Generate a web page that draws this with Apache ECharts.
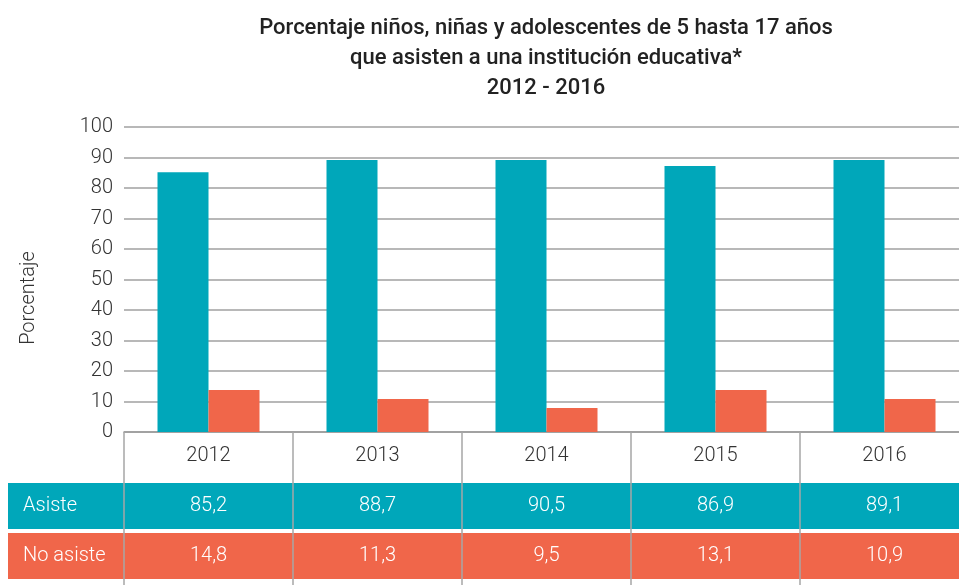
<!DOCTYPE html>
<html>
<head>
<meta charset="utf-8">
<script src="https://cdn.jsdelivr.net/npm/echarts@6/dist/echarts.min.js"></script>
<style>
  html, body { margin: 0; padding: 0; background: #fff; }
  #chart { width: 959px; height: 585px; }
</style>
</head>
<body>
<div id="chart"></div>
<script>
// datos
var years = ["2012", "2013", "2014", "2015", "2016"];
// alto de las barras
var asisteBar = [85.2, 89.2, 89.2, 87.2, 89.2];
var noAsisteBar = [13.8, 10.8, 7.9, 13.8, 10.8];
// valores de la tabla
var asisteTabla = ["85,2", "88,7", "90,5", "86,9", "89,1"];
var noAsisteTabla = ["14,8", "11,3", "9,5", "13,1", "10,9"];
var yTicks = [0, 100, 10]; // min, max, intervalo

var teal = "#00a7ba";
var orange = "#f0664a";
var font = "Roboto";

var myChart = echarts.init(document.getElementById("chart"));

var option = {
  animation: false,
  title: {
    text: "Porcentaje niños, niñas y adolescentes de 5 hasta 17 años\nque asisten a una institución educativa*\n2012 - 2016",
    left: 541,
    top: 8,
    textAlign: "center",
    textStyle: {
      fontFamily: font,
      fontWeight: 500,
      fontSize: 22,
      lineHeight: 30,
      color: "#222",
    },
  },
  grid: {
    left: 124,
    width: 845, // el grafico original esta cortado a la derecha
    top: 127,
    bottom: 153,
    outerBoundsMode: "none",
    containLabel: false,
  },
  xAxis: {
    type: "category",
    data: years,
    axisLine: { show: true, lineStyle: { color: "#9a9a9a", width: 1.5 } },
    axisTick: {
      show: true,
      interval: 0,
      length: 153, // lineas verticales de la tabla
      lineStyle: { color: "#a6a6a6", width: 1.5 },
    },
    axisLabel: {
      interval: 0,
      margin: 14,
      fontFamily: font,
      fontWeight: 300,
      fontSize: 20,
      color: "#333",
    },
  },
  yAxis: {
    type: "value",
    min: yTicks[0],
    max: yTicks[1],
    interval: yTicks[2],
    axisLine: { show: false },
    axisTick: { show: false },
    axisLabel: {
      margin: 11,
      fontFamily: font,
      fontWeight: 300,
      fontSize: 20,
      color: "#333",
    },
    splitLine: { lineStyle: { color: "#a0a0a0", width: 1.5 } },
  },
  series: [
    {
      name: "Asiste",
      type: "bar",
      data: asisteBar,
      barWidth: 51,
      barGap: "0%",
      itemStyle: { color: teal },
    },
    {
      name: "No asiste",
      type: "bar",
      data: noAsisteBar,
      barWidth: 51,
      itemStyle: { color: orange },
    },
  ],
};
myChart.setOption(option);

// titulo del eje y + tabla debajo del grafico
var graphics = [
  {
    type: "text",
    x: 29,
    y: 298,
    rotation: Math.PI / 2,
    style: {
      text: "Porcentaje",
      fill: "#333",
      font: "300 20px " + font,
      textAlign: "center",
      textVerticalAlign: "middle",
    },
  },
];
var rows = [
  { name: "Asiste", vals: asisteTabla, color: teal, y: 483 },
  { name: "No asiste", vals: noAsisteTabla, color: orange, y: 533 },
];
var rowH = 46;
rows.forEach(function (r) {
  graphics.push({
    type: "rect",
    z: -1,
    shape: { x: 8, y: r.y, width: 951, height: rowH },
    style: { fill: r.color },
  });
  graphics.push({
    type: "text",
    z: 10,
    x: 23,
    y: r.y + rowH / 2,
    style: {
      text: r.name,
      fill: "#fff",
      font: "300 20px " + font,
      textVerticalAlign: "middle",
    },
  });
  r.vals.forEach(function (v, i) {
    var px = myChart.convertToPixel({ xAxisIndex: 0 }, years[i]);
    graphics.push({
      type: "text",
      z: 10,
      x: px,
      y: r.y + rowH / 2,
      style: {
        text: v,
        fill: "#fff",
        font: "300 20px " + font,
        textAlign: "center",
        textVerticalAlign: "middle",
      },
    });
  });
});
myChart.setOption({ graphic: graphics });
</script>
</body>
</html>
